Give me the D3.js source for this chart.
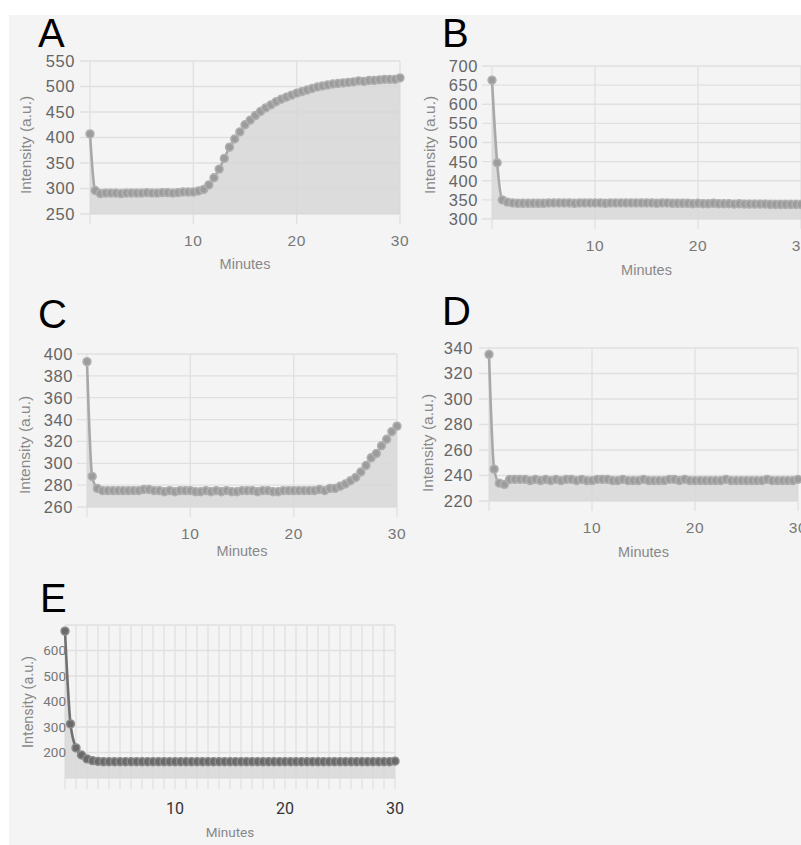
<!DOCTYPE html>
<html>
<head>
<meta charset="utf-8">
<script src="https://cdn.jsdelivr.net/npm/d3@7"></script>
<style>
  body { margin: 0; background: #fff; }
  svg { display: block; }
</style>
</head>
<body>
<div id="chart"></div>
<script>
// sampling times (minutes)
const minutes = [0,0.5,1,1.5,2,2.5,3,3.5,4,4.5,5,5.5,6,6.5,7,7.5,8,8.5,9,9.5,10,
  10.5,11,11.5,12,12.5,13,13.5,14,14.5,15,15.5,16,16.5,17,17.5,18,18.5,19,19.5,20,
  20.5,21,21.5,22,22.5,23,23.5,24,24.5,25,25.5,26,26.5,27,27.5,28,28.5,29,29.5,30];

const valuesA = [407,296,290,291,291,291,290,291,291,291,291,292,291,291,292,292,291,292,293,293,293,
  295,298,307,321,338,359,381,397,411,425,434,443,451,458,464,470,475,479,483,487,
  490,493,496,499,501,503,505,506,507,508,509,511,510,512,512,513,514,514,514,517];

const valuesB = [663,447,350,344,342,341,341,341,341,341,341,342,342,342,342,342,341,342,342,342,342,
  342,341,342,342,342,342,342,342,342,342,342,341,342,342,341,341,341,341,340,341,
  340,340,341,340,340,340,339,340,339,339,339,339,339,338,338,338,338,338,338,338];

const valuesC = [393,288,277,275,275,275,275,275,275,275,275,276,276,275,275,274,275,274,275,275,275,
  274,274,275,274,275,274,275,274,274,275,275,275,274,275,275,274,274,275,275,275,
  275,275,275,275,276,275,277,277,279,281,284,287,292,298,305,309,316,322,329,334];

const valuesD = [335,245,234,233,237,237,237,237,236,237,236,237,236,237,236,237,237,236,237,236,236,
  237,237,237,236,236,237,236,236,236,237,236,236,236,236,237,237,236,237,236,236,
  236,236,236,236,236,237,236,236,236,236,236,236,236,237,236,236,236,236,236,237];

const valuesE = [676,312,218,190,175,168,165,164,164,164,164,164,164,164,164,164,164,164,164,164,164,
  164,164,164,164,164,164,164,164,164,164,164,164,164,164,164,164,164,164,164,164,
  164,164,164,164,164,164,164,164,164,164,164,164,164,164,164,164,164,164,164,166];

const xTickLabels = [10, 20, 30];
const ticksA = [250,300,350,400,450,500,550];
const ticksB = [300,350,400,450,500,550,600,650,700];
const ticksC = [260,280,300,320,340,360,380,400];
const ticksD = [220,240,260,280,300,320,340];
const gridE = [100,200,300,400,500,600,700];
const ticksE = [200,300,400,500,600];
const minuteGridE = [0,1,2,3,4,5,6,7,8,9,10,11,12,13,14,15,16,17,18,19,20,21,22,23,24,25,26,27,28,29,30];

const width = 801, height = 845;

const svg = d3.select("#chart").append("svg")
  .attr("width", width)
  .attr("height", height);

svg.append("rect")
  .attr("x", 9).attr("y", 15)
  .attr("width", width - 9).attr("height", height - 15)
  .attr("fill", "#f4f4f4");

const sans = "'Liberation Sans', Arial, Helvetica, sans-serif";
const roboto = "Roboto, 'Liberation Sans', sans-serif";

function drawPanel(cfg) {
  const g = svg.append("g");
  const x = d3.scaleLinear().domain([0, 30]).range([cfg.left, cfg.right]);
  const y = d3.scaleLinear().domain(cfg.domain).range([cfg.bottom, cfg.top]);

  // horizontal grid
  g.append("g").selectAll("line")
    .data(cfg.yGrid)
    .join("line")
    .attr("x1", cfg.left - cfg.tickLen)
    .attr("x2", cfg.right)
    .attr("y1", d => y(d)).attr("y2", d => y(d))
    .attr("stroke", "#e0e0e0")
    .attr("stroke-width", 1.3);

  // vertical grid
  g.append("g").selectAll("line")
    .data(cfg.xGrid)
    .join("line")
    .attr("x1", d => x(d)).attr("x2", d => x(d))
    .attr("y1", cfg.top)
    .attr("y2", cfg.bottom + cfg.xTickLen)
    .attr("stroke", "#e0e0e0")
    .attr("stroke-width", 1.3);

  const area = d3.area()
    .x((d, i) => x(minutes[i]))
    .y0(cfg.bottom)
    .y1(d => y(d))
    .curve(d3.curveMonotoneX);

  const line = d3.line()
    .x((d, i) => x(minutes[i]))
    .y(d => y(d))
    .curve(d3.curveMonotoneX);

  g.append("path")
    .datum(cfg.values)
    .attr("d", area)
    .attr("fill", "#d7d7d7")
    .attr("fill-opacity", 0.85);

  g.append("path")
    .datum(cfg.values)
    .attr("d", line)
    .attr("fill", "none")
    .attr("stroke", cfg.lineColor)
    .attr("stroke-width", 2.6);

  g.append("g").selectAll("circle")
    .data(cfg.values)
    .join("circle")
    .attr("cx", (d, i) => x(minutes[i]))
    .attr("cy", d => y(d))
    .attr("r", 3.9)
    .attr("fill", cfg.pointFill)
    .attr("stroke", cfg.pointStroke)
    .attr("stroke-width", 1.6);

  // y tick labels
  g.append("g").selectAll("text")
    .data(cfg.yTicks)
    .join("text")
    .attr("x", cfg.yLabelX)
    .attr("y", d => y(d))
    .attr("dy", "0.36em")
    .attr("text-anchor", "end")
    .attr("font-family", cfg.tickFont)
    .attr("font-size", cfg.yTickSize)
    .attr("letter-spacing", cfg.tickSpacing)
    .attr("fill", cfg.yTickColor)
    .text(d => d);

  // x tick labels
  g.append("g").selectAll("text")
    .data(xTickLabels)
    .join("text")
    .attr("x", d => x(d))
    .attr("y", cfg.xLabelY)
    .attr("text-anchor", "middle")
    .attr("font-family", cfg.tickFont)
    .attr("font-size", cfg.xTickSize)
    .attr("letter-spacing", cfg.tickSpacing)
    .attr("fill", cfg.xTickColor)
    .text(d => d);

  g.append("text")
    .attr("x", (cfg.left + cfg.right) / 2)
    .attr("y", cfg.titleY)
    .attr("text-anchor", "middle")
    .attr("font-family", cfg.tickFont)
    .attr("font-size", cfg.titleSize)
    .attr("fill", "#888")
    .text("Minutes");

  g.append("text")
    .attr("transform", `translate(${cfg.yTitleX},${cfg.yTitleY}) rotate(-90)`)
    .attr("text-anchor", "middle")
    .attr("dy", "0.35em")
    .attr("font-family", cfg.tickFont)
    .attr("font-size", cfg.titleSize + 1)
    .attr("fill", "#888")
    .text("Intensity (a.u.)");

  g.append("text")
    .attr("x", cfg.letterX)
    .attr("y", cfg.letterY)
    .attr("font-family", sans)
    .attr("font-size", 40)
    .attr("fill", "#000")
    .text(cfg.letter);
}

const grey = {
  lineColor: "#a8a8a8", pointFill: "#9c9c9c", pointStroke: "#b0b0b0",
  tickFont: sans, yTickSize: 16.5, xTickSize: 15.5, tickSpacing: 0.6,
  yTickColor: "#666", xTickColor: "#777", titleSize: 14.5,
  tickLen: 10, xTickLen: 10, xGrid: [0, 10, 20, 30]
};

drawPanel(Object.assign({}, grey, {
  letter: "A", values: valuesA, domain: [250, 550], yGrid: ticksA, yTicks: ticksA,
  left: 90, right: 400, top: 61, bottom: 214,
  yLabelX: 75, xLabelY: 246, titleY: 269, yTitleX: 26, yTitleY: 145,
  letterX: 38, letterY: 47
}));

drawPanel(Object.assign({}, grey, {
  letter: "B", values: valuesB, domain: [300, 700], yGrid: ticksB, yTicks: ticksB,
  left: 492, right: 801, top: 66, bottom: 219,
  yLabelX: 478, xLabelY: 251, titleY: 275, yTitleX: 430, yTitleY: 145,
  letterX: 442, letterY: 47
}));

drawPanel(Object.assign({}, grey, {
  letter: "C", values: valuesC, domain: [260, 400], yGrid: ticksC, yTicks: ticksC,
  left: 87, right: 397, top: 354, bottom: 507,
  yLabelX: 73, xLabelY: 539, titleY: 556, yTitleX: 25, yTitleY: 445,
  letterX: 38, letterY: 328
}));

drawPanel(Object.assign({}, grey, {
  letter: "D", values: valuesD, domain: [220, 340], yGrid: ticksD, yTicks: ticksD,
  left: 489, right: 798, top: 348, bottom: 501,
  yLabelX: 473, xLabelY: 533, titleY: 557, yTitleX: 428, yTitleY: 443,
  letterX: 442, letterY: 325
}));

drawPanel({
  letter: "E", values: valuesE, domain: [100, 700], yGrid: gridE, yTicks: ticksE,
  left: 65, right: 395, top: 625, bottom: 778,
  lineColor: "#707070", pointFill: "#6a6a6a", pointStroke: "#8a8a8a",
  tickFont: roboto, yTickSize: 13.5, xTickSize: 16, tickSpacing: 0,
  yTickColor: "#777", xTickColor: "#333", titleSize: 13.5,
  tickLen: 0, xTickLen: 11, xGrid: minuteGridE,
  yLabelX: 66, xLabelY: 814, titleY: 837, yTitleX: 28, yTitleY: 702,
  letterX: 40, letterY: 612
});
</script>
</body>
</html>
